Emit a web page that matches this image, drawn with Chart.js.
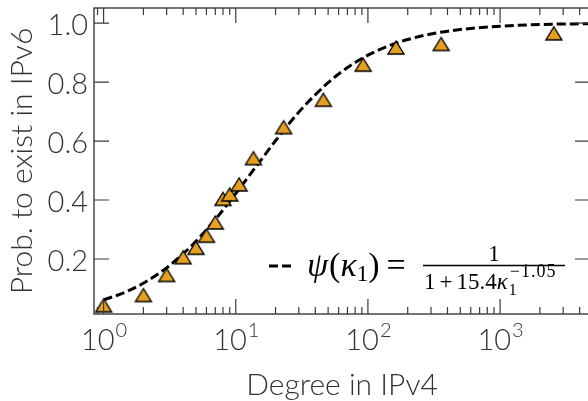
<!DOCTYPE html>
<html>
<head>
<meta charset="utf-8">
<script src="https://cdn.jsdelivr.net/npm/chart.js@4"></script>
<style>
  html, body { margin: 0; padding: 0; overflow: hidden; background: #fff; }
  canvas { display: block; }
</style>
</head>
<body>
<canvas id="fitChart" width="600" height="401"></canvas>
<script>
// measured points (degree in IPv4 -> share that also exists in IPv6)
const degrees = [1, 2, 3, 4, 5, 6, 7, 8, 9, 10.6, 13.6, 23, 46, 92, 163, 358, 2550];
const probs = [0.043, 0.078, 0.146, 0.206, 0.238, 0.279, 0.324, 0.404, 0.419, 0.453, 0.542, 0.647, 0.740, 0.859, 0.917, 0.929, 0.965];

// dashed fit curve
const fitDegrees = [1, 1.5, 2, 3, 4, 5, 7, 10, 15, 20, 30, 50, 70, 100, 150, 200, 300, 500, 1000, 2000, 4800];
const fitProbs = [0.061, 0.090, 0.118, 0.170, 0.218, 0.260, 0.334, 0.422, 0.527, 0.601, 0.698, 0.798, 0.849, 0.891, 0.926, 0.944, 0.963, 0.978, 0.989, 0.995, 0.998];

const yTickValues = [0.2, 0.4, 0.6, 0.8, 1.0];
const yTickLabels = ['0.2', '0.4', '0.6', '0.8', '1.0'];
const xTickValues = [1, 10, 100, 1000];
const xTickExponents = ['0', '1', '2', '3'];
const xTitle = 'Degree in IPv4';
const yTitle = 'Prob. to exist in IPv6';

const ink = '#3a3a3a';
const labelFont = '"Lato", "DejaVu Sans", sans-serif';

function makeTriangle() {
  const c = document.createElement('canvas');
  c.width = 20; c.height = 17;
  const g = c.getContext('2d');
  g.beginPath();
  g.moveTo(10, 2); g.lineTo(2, 15); g.lineTo(18, 15); g.closePath();
  g.fillStyle = '#e5a022';
  g.fill();
  g.lineWidth = 1.4;
  g.strokeStyle = '#000';
  g.lineJoin = 'miter';
  g.stroke();
  return c;
}

// spines, inward ticks and tick labels
const frame = {
  id: 'frame',
  afterDatasetsDraw(chart) {
    const { ctx, chartArea: a, scales: { x, y } } = chart;
    ctx.save();
    ctx.strokeStyle = ink;
    ctx.lineWidth = 1.4;
    ctx.strokeRect(a.left, a.top, a.right - a.left, a.bottom - a.top);

    ctx.lineWidth = 1.2;
    ctx.beginPath();
    const lo = Math.floor(Math.log10(x.min)), hi = Math.ceil(Math.log10(x.max));
    for (let e = lo; e <= hi; e++) {
      for (let m = 1; m <= 9; m++) {
        const v = m * Math.pow(10, e);
        if (v < x.min || v > x.max) continue;
        const px = x.getPixelForValue(v);
        const len = m === 1 ? 15 : 7;
        ctx.moveTo(px, a.bottom); ctx.lineTo(px, a.bottom - len);
        ctx.moveTo(px, a.top); ctx.lineTo(px, a.top + len);
      }
    }
    yTickValues.forEach(v => {
      const py = y.getPixelForValue(v);
      ctx.moveTo(a.left, py); ctx.lineTo(a.left + 15, py);
      ctx.moveTo(a.right, py); ctx.lineTo(a.right - 15, py);
    });
    ctx.stroke();

    ctx.fillStyle = '#333';
    ctx.textAlign = 'right';
    ctx.textBaseline = 'alphabetic';
    ctx.font = '300 29px ' + labelFont;
    yTickValues.forEach((v, i) => {
      ctx.fillText(yTickLabels[i], a.left - 6, y.getPixelForValue(v) + 11.5);
    });

    ctx.textAlign = 'left';
    xTickValues.forEach((v, i) => {
      const px = x.getPixelForValue(v);
      ctx.font = '300 29px ' + labelFont;
      const wb = ctx.measureText('10').width;
      ctx.font = '300 20px ' + labelFont;
      const we = ctx.measureText(xTickExponents[i]).width;
      const start = px - (wb + we) / 2;
      ctx.font = '300 29px ' + labelFont;
      ctx.fillText('10', start, a.bottom + 36);
      ctx.font = '300 20px ' + labelFont;
      ctx.fillText(xTickExponents[i], start + wb + 1, a.bottom + 23);
    });

    ctx.font = '300 30px ' + labelFont;
    ctx.textAlign = 'center';
    ctx.fillText(xTitle, (a.left + a.right) / 2, a.bottom + 81);
    ctx.translate(32, (a.top + a.bottom) / 2);
    ctx.rotate(-Math.PI / 2);
    ctx.fillText(yTitle, 0, 0);
    ctx.restore();
  }
};

// legend entry with the fitted formula
const formulaLegend = {
  id: 'formulaLegend',
  afterDraw(chart) {
    const { ctx } = chart;
    const serif = '"Liberation Serif", "DejaVu Serif", serif';
    ctx.save();
    ctx.strokeStyle = '#000';
    ctx.lineWidth = 3;
    ctx.setLineDash([9, 4]);
    ctx.beginPath();
    ctx.moveTo(269, 266); ctx.lineTo(291, 266);
    ctx.stroke();
    ctx.setLineDash([]);

    ctx.fillStyle = '#000';
    ctx.textBaseline = 'alphabetic';
    ctx.textAlign = 'left';
    const run = (x, parts) => {
      parts.forEach(p => {
        ctx.font = p.f;
        ctx.letterSpacing = p.s || '0px';
        ctx.fillText(p.t, x, p.y);
        x += ctx.measureText(p.t).width + (p.g || 0);
      });
      ctx.letterSpacing = '0px';
      return x;
    };
    const big = '34px ' + serif, bigI = 'italic 34px ' + serif;
    run(307, [
      { t: 'ψ', f: bigI, y: 276, g: 1 },
      { t: '(', f: big, y: 276 },
      { t: 'κ', f: bigI, y: 276 },
      { t: '1', f: '23px ' + serif, y: 281 },
      { t: ')', f: big, y: 276, g: 7 },
      { t: '=', f: big, y: 276 }
    ]);

    ctx.lineWidth = 1.5;
    ctx.beginPath();
    ctx.moveTo(423, 265.5); ctx.lineTo(565, 265.5);
    ctx.stroke();

    const med = '23px ' + serif;
    ctx.font = med;
    ctx.textAlign = 'center';
    ctx.fillText('1', 494, 261);
    ctx.textAlign = 'left';
    let x = run(424, [
      { t: '1', f: med, y: 289, g: 4 },
      { t: '+', f: med, y: 289, g: 4 },
      { t: '15.4', f: med, y: 289 },
      { t: 'κ', f: 'italic 23px ' + serif, y: 289, g: 1 }
    ]);
    ctx.font = '16px ' + serif;
    ctx.fillText('1', x, 295);
    run(x + 1, [{ t: '−1.05', f: '18px ' + serif, y: 277, s: '1px' }]);
    ctx.restore();
  }
};

new Chart(document.getElementById('fitChart'), {
  type: 'scatter',
  data: {
    datasets: [
      {
        label: 'measured',
        data: degrees.map((d, i) => ({ x: d, y: probs[i] })),
        pointStyle: makeTriangle(),
        order: 1
      },
      {
        label: 'fit',
        data: fitDegrees.map((d, i) => ({ x: d, y: fitProbs[i] })),
        showLine: true,
        borderColor: '#000',
        borderWidth: 3,
        borderDash: [9, 4],
        pointRadius: 0,
        cubicInterpolationMode: 'monotone',
        order: 2
      }
    ]
  },
  options: {
    responsive: false,
    animation: false,
    layout: { padding: { left: 94, top: 8, right: 10, bottom: 87 } },
    scales: {
      x: { type: 'logarithmic', min: 0.846, max: 4790, display: false },
      y: { type: 'linear', min: 0.0136, max: 1.051, display: false }
    },
    plugins: { legend: { display: false }, tooltip: { enabled: false } }
  },
  plugins: [frame, formulaLegend]
});
</script>
</body>
</html>
